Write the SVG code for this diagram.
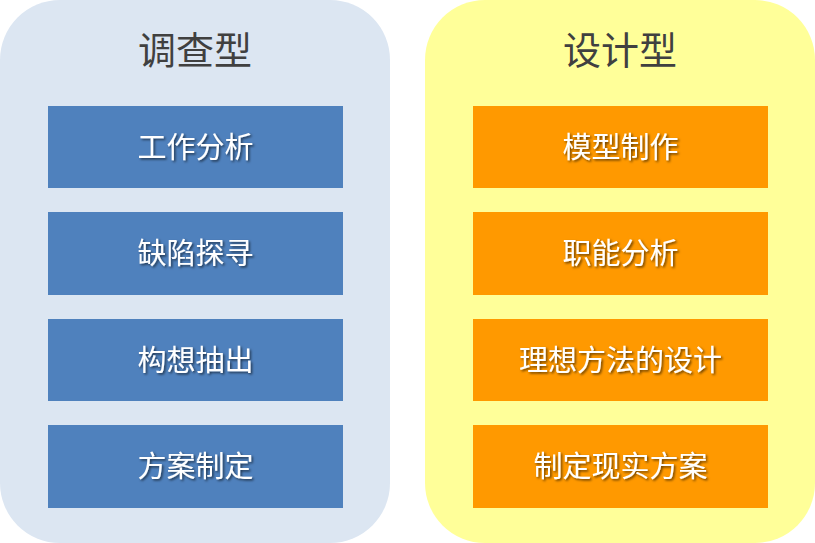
<svg xmlns="http://www.w3.org/2000/svg" width="815" height="543" viewBox="0 0 815 543">
<defs>
<filter id="sh" x="-10%" y="-20%" width="130%" height="150%">
<feDropShadow dx="1.5" dy="1.5" stdDeviation="1" flood-color="#000" flood-opacity="0.6"/>
</filter>
</defs>
<style>
.title{font-family:"Liberation Sans","Noto Sans CJK SC",sans-serif;font-size:38px;fill:#404040;text-anchor:middle}
.lbl{font-family:"Liberation Sans","Noto Sans CJK SC",sans-serif;font-size:29px;fill:#fff;text-anchor:middle;filter:url(#sh)}
.blue{fill:#4F81BD}
.orange{fill:#FF9900}
</style>
<g id="panel-survey">
<rect x="0" y="0" width="390" height="543" rx="60" ry="60" fill="#DCE6F2"/>
<text class="title" x="195" y="64">调查型</text>
</g>
<g id="panel-design">
<rect x="425" y="0" width="390" height="543" rx="60" ry="60" fill="#FFFF99"/>
<text class="title" x="620" y="64">设计型</text>
</g>
<g id="n1"><rect class="blue" x="48" y="106" width="295" height="82"/><text class="lbl" x="195.5" y="158">工作分析</text></g>
<g id="n2"><rect class="blue" x="48" y="212" width="295" height="83"/><text class="lbl" x="195.5" y="264">缺陷探寻</text></g>
<g id="n3"><rect class="blue" x="48" y="319" width="295" height="82"/><text class="lbl" x="195.5" y="371">构想抽出</text></g>
<g id="n4"><rect class="blue" x="48" y="425" width="295" height="83"/><text class="lbl" x="195.5" y="477">方案制定</text></g>
<g id="n5"><rect class="orange" x="473" y="106" width="295" height="82"/><text class="lbl" x="620.5" y="158">模型制作</text></g>
<g id="n6"><rect class="orange" x="473" y="212" width="295" height="83"/><text class="lbl" x="620.5" y="264">职能分析</text></g>
<g id="n7"><rect class="orange" x="473" y="319" width="295" height="82"/><text class="lbl" x="620.5" y="371">理想方法的设计</text></g>
<g id="n8"><rect class="orange" x="473" y="425" width="295" height="83"/><text class="lbl" x="620.5" y="477">制定现实方案</text></g>
<g id="connectors"></g>
</svg>
